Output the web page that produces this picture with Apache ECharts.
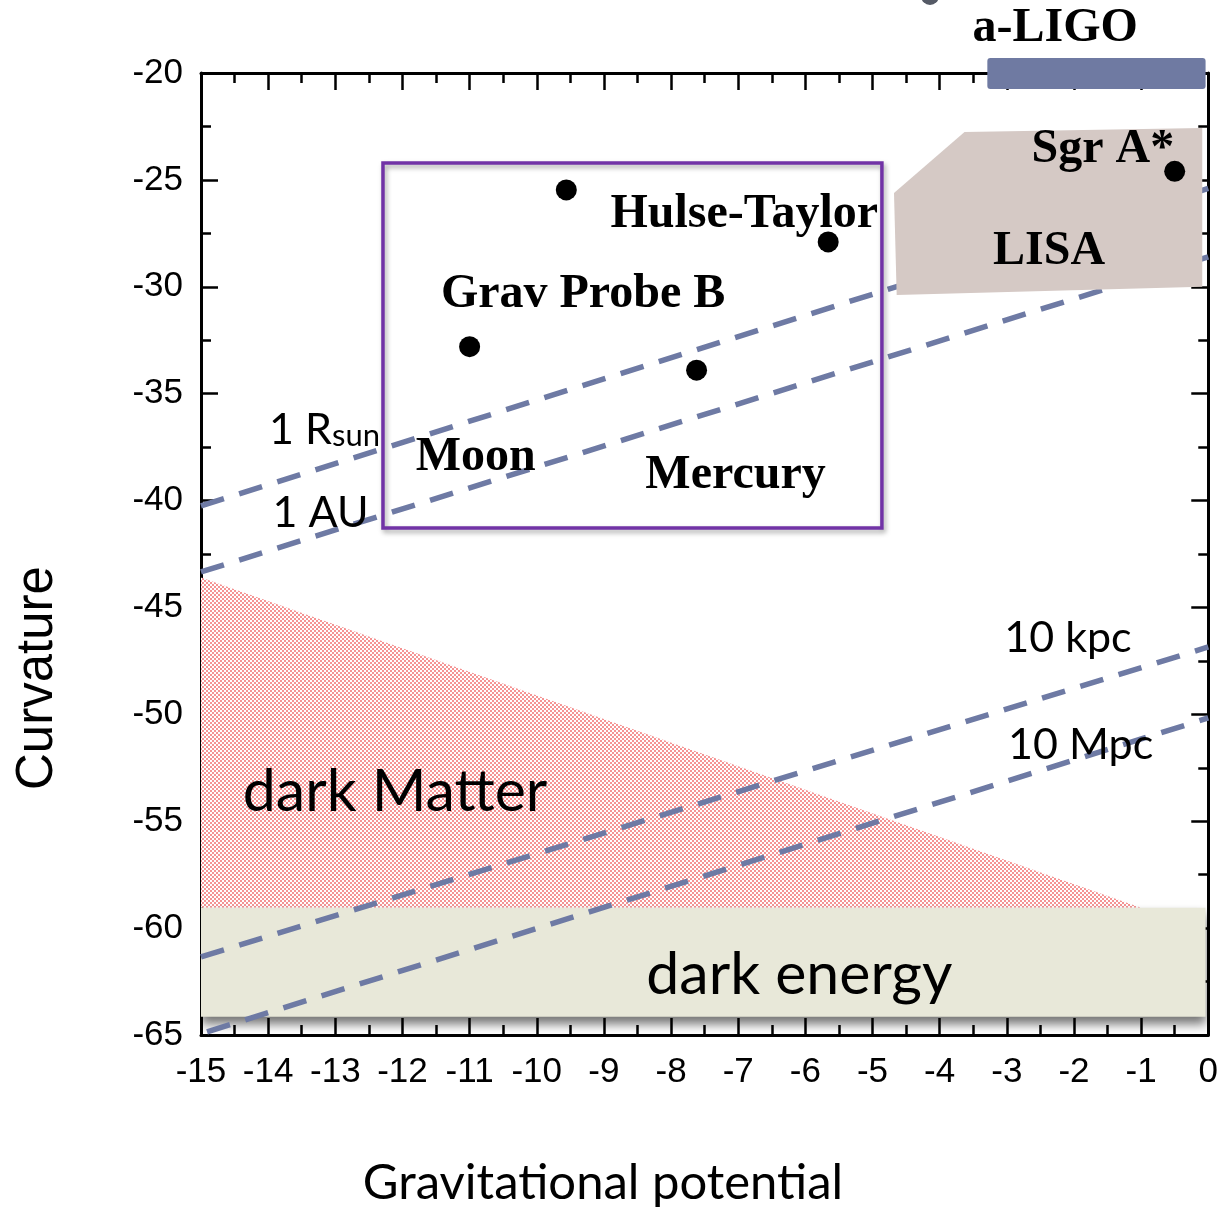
<!DOCTYPE html>
<html>
<head>
<meta charset="utf-8">
<script src="https://cdn.jsdelivr.net/npm/echarts@6/dist/echarts.min.js"></script>
<style>
html,body{margin:0;padding:0;background:#fff;overflow:hidden;}
#chart{width:1221px;height:1207px;}
</style>
</head>
<body>
<div id="chart"></div>
<script>
// ---------- data ----------
const xTicks = [-15,-14,-13,-12,-11,-10,-9,-8,-7,-6,-5,-4,-3,-2,-1,0];
const yTicks = [-65,-60,-55,-50,-45,-40,-35,-30,-25,-20];

// experimental tests (points)
const testPoints = [[-11.0,-32.8],[-9.56,-25.47],[-5.66,-27.9],[-7.62,-33.9],[-0.5,-24.6]];

// text labels for tests / detectors
const testLabels = ['Grav Probe B','Moon','Hulse-Taylor','Mercury','Sgr A*','LISA','a-LIGO'];
const testLabelPos = [[-9.31,-30.38],[-10.91,-38.0],[-6.91,-26.64],[-7.04,-38.85],[-1.57,-23.6],[-2.37,-28.37],[-2.28,-17.9]];

// scale lines (dashed)
const scaleNames = ['1 R','1 AU','10 kpc','10 Mpc'];
const scaleStart = [[-15,-40.25],[-15,-43.34],[-15,-61.35],[-14.91,-64.85]];
const scaleEnd = [[0,-25.4],[0,-28.6],[0,-46.85],[0,-50.17]];
const scaleLabelPos = [[-13.16,-36.7],[-13.22,-40.58],[-2.09,-46.43],[-1.9,-51.43]];

// regions
const lisaRegion = [[-4.68,-25.61],[-3.63,-22.76],[-0.09,-22.57],[-0.09,-30.0],[-4.64,-30.38]];
const ligoRegion = [[-3.29,-19.3],[-0.04,-19.3],[-0.04,-20.75],[-3.29,-20.75]];
const testBox = [[-12.29,-24.21],[-4.86,-24.21],[-4.86,-41.28],[-12.29,-41.28]];
const darkMatterRegion = [[-15,-43.6],[-1.0,-59.05],[-15,-59.05]];
const darkEnergyRegion = [[-15,-59.05],[-0.04,-59.05],[-0.04,-64.15],[-15,-64.15]];
const regionLabels = ['dark Matter','dark energy'];
const regionLabelPos = [[-12.11,-53.63],[-6.09,-62.19]];

// axis titles
const xTitle = 'Gravitational potential';
const yTitle = 'Curvature';

// ---------- styling helpers ----------
const chart = echarts.init(document.getElementById('chart'));
const pinkCanvas = document.createElement('canvas');
pinkCanvas.width = 4; pinkCanvas.height = 4;
(function(){
  const c = pinkCanvas.getContext('2d');
  c.fillStyle = '#ffffff'; c.fillRect(0,0,4,4);
  c.fillStyle = '#f59494';
  c.fillRect(0,0,2,2); c.fillRect(2,2,2,2);
})();

const dashColor = '#6e7aa4';
const serifBold = {fontFamily:'Liberation Serif', fontWeight:'bold', fontSize:48, color:'#000'};

function polySeries(pts, style, z, clip) {
  return {
    type:'custom', z:z, clip: !!clip, silent:true,
    data:[[0]],
    renderItem:function(params, api){
      return {type:'polygon', shape:{points: pts.map(p=>api.coord(p))}, style: style};
    }
  };
}

const xAxisCommon = {
  type:'value', min:-15, max:0, interval:1,
  axisLine:{show:true, onZero:false, lineStyle:{color:'#000', width:3}},
  axisTick:{show:true, inside:true, length:17, lineStyle:{color:'#000', width:2.5}},
  minorTick:{show:true, splitNumber:2, length:10, lineStyle:{color:'#000', width:2.5}},
  splitLine:{show:false}, minorSplitLine:{show:false}
};
const yAxisCommon = {
  type:'value', min:-65, max:-20, interval:5,
  axisLine:{show:true, onZero:false, lineStyle:{color:'#000', width:3}},
  axisTick:{show:true, inside:true, length:17, lineStyle:{color:'#000', width:2.5}},
  minorTick:{show:true, splitNumber:2, length:10, lineStyle:{color:'#000', width:2.5}},
  splitLine:{show:false}, minorSplitLine:{show:false}
};

const series = [];
// dark matter (pink pattern)
series.push(polySeries(darkMatterRegion, {fill:{image:pinkCanvas, repeat:'repeat'}}, 1, true));
// dark energy band with shadow
series.push(polySeries(darkEnergyRegion, {fill:'#e8e8d9', shadowBlur:10, shadowOffsetY:7, shadowColor:'rgba(0,0,0,0.55)'}, 2, true));
// dashed scale lines
scaleNames.forEach(function(n,i){
  series.push({
    type:'line', name:n, z:3, silent:true, symbol:'none',
    data:[scaleStart[i], scaleEnd[i]],
    lineStyle:{color:dashColor, width:5.5, type:[24,16]}
  });
});
// LISA region
series.push(polySeries(lisaRegion, {fill:'#d5c9c5'}, 4, true));
// a-LIGO bar (outside the plot)
series.push({
  type:'custom', z:4, clip:false, silent:true, data:[[0]],
  renderItem:function(params, api){
    const a = api.coord(ligoRegion[0]), b = api.coord(ligoRegion[2]);
    return {type:'rect', shape:{x:a[0], y:a[1], width:b[0]-a[0], height:b[1]-a[1], r:3}, style:{fill:'#6f7aa2'}};
  }
});
// test box (purple)
series.push(polySeries(testBox, {fill:'none', stroke:'#7133a6', lineWidth:3.5, shadowBlur:5, shadowOffsetX:2, shadowOffsetY:3, shadowColor:'rgba(0,0,0,0.35)'}, 5, false));
// test points
series.push({
  type:'scatter', z:6, silent:true, symbol:'circle', symbolSize:21,
  itemStyle:{color:'#000', opacity:1}, data:testPoints
});
// test labels
series.push({
  type:'scatter', z:7, silent:true, clip:false, symbolSize:1, itemStyle:{color:'rgba(0,0,0,0)', opacity:1},
  label:Object.assign({show:true, position:'inside', formatter:'{b}'}, serifBold),
  data:testLabels.map(function(n,i){return {name:n, value:testLabelPos[i]};})
});
// scale labels
series.push({
  type:'scatter', z:7, silent:true, symbolSize:1, itemStyle:{color:'rgba(0,0,0,0)', opacity:1},
  label:{show:true, position:'inside', color:'#000',
    formatter:function(p){ return p.dataIndex===0 ? '{a|1 R}{b|sun}' : '{a|'+p.name+'}'; },
    rich:{a:{fontFamily:'Lato', fontSize:43, color:'#000', verticalAlign:'bottom'},
          b:{fontFamily:'Lato', fontSize:31, color:'#000', verticalAlign:'bottom'}}
  },
  data:scaleNames.map(function(n,i){return {name:n, value:scaleLabelPos[i]};})
});
// region labels
series.push({
  type:'scatter', z:7, silent:true, symbolSize:1, itemStyle:{color:'rgba(0,0,0,0)', opacity:1},
  label:{show:true, position:'inside', formatter:'{b}', fontFamily:'Lato', fontSize:59, color:'#000'},
  data:regionLabels.map(function(n,i){return {name:n, value:regionLabelPos[i]};})
});

const option = {
  animation:false,
  backgroundColor:'#fff',
  grid:{left:201, top:73, width:1012, height:962, containLabel:false},
  xAxis:[
    Object.assign({}, xAxisCommon, {
      position:'bottom',
      axisLabel:{show:true, fontFamily:'Liberation Sans', fontSize:35, color:'#000', margin:20,
        formatter:function(v){return String(v);}}
    }),
    Object.assign({}, xAxisCommon, {position:'top', axisLabel:{show:false}})
  ],
  yAxis:[
    Object.assign({}, yAxisCommon, {
      position:'left',
      axisLabel:{show:true, fontFamily:'Liberation Sans', fontSize:35, color:'#000', margin:18}
    }),
    Object.assign({}, yAxisCommon, {position:'right', axisLabel:{show:false}})
  ],
  graphic:[
    {type:'circle', shape:{cx:930, cy:-4, r:9}, style:{fill:'#555a66'}, silent:true},
    {type:'text', x:603, y:1183, silent:true,
      style:{text:xTitle, fontFamily:'Lato', fontSize:49, fill:'#000', align:'center', verticalAlign:'middle'}},
    {type:'text', x:38, y:678, rotation:Math.PI/2, silent:true,
      style:{text:yTitle, fontFamily:'Liberation Sans', fontSize:51, fill:'#000', align:'center', verticalAlign:'middle'}}
  ],
  series:series
};
chart.setOption(option);
</script>
</body>
</html>
